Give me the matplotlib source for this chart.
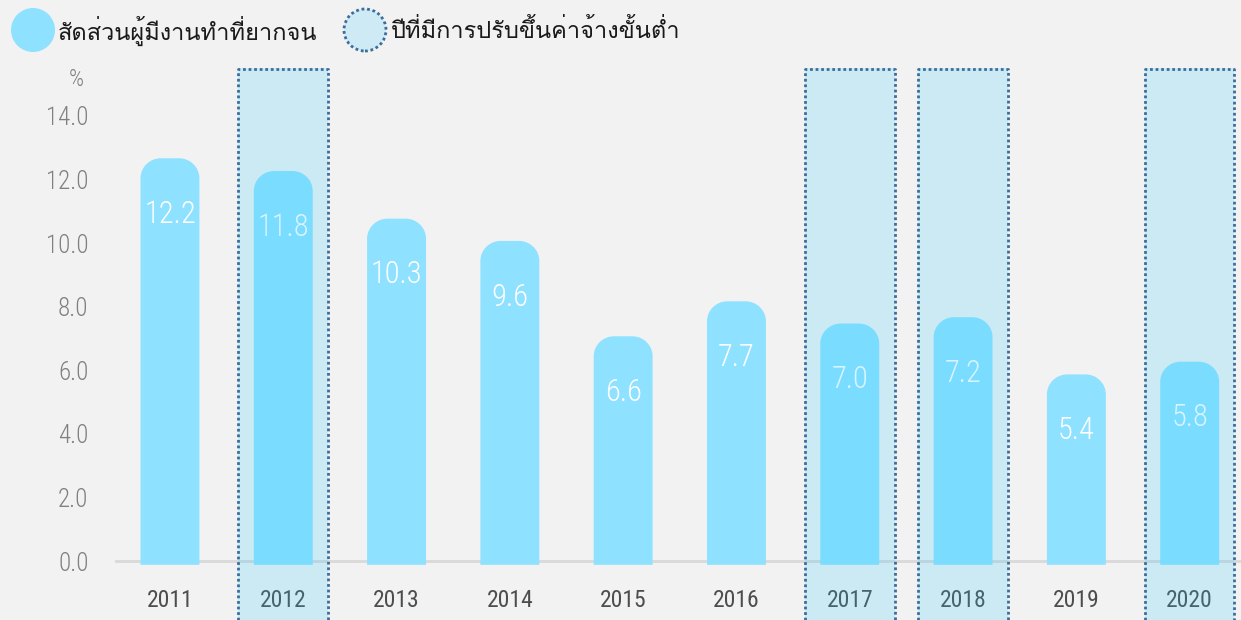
import matplotlib
matplotlib.use('Agg')
import matplotlib.pyplot as plt
from matplotlib import font_manager
from matplotlib.ft2font import FT2Font
from matplotlib.path import Path
from matplotlib.patches import PathPatch, Ellipse
from matplotlib.transforms import blended_transform_factory

# ข้อมูล
years = ['2011', '2012', '2013', '2014', '2015', '2016', '2017', '2018', '2019', '2020']
share = [12.2, 11.8, 10.3, 9.6, 6.6, 7.7, 7.0, 7.2, 5.4, 5.8]
wage_up_years = ['2012', '2017', '2018', '2020']
legend_labels = ['สัดส่วนผู้มีงานทำที่ยากจน', 'ปีที่มีการปรับขึ้นค่าจ้างขั้นต่ำ']
yticks = [0, 2, 4, 6, 8, 10, 12, 14]
y_unit = '%'


# หาฟอนต์ที่มีอักษรไทย
def find_font(codepoint):
    for f in font_manager.fontManager.ttflist:
        try:
            if codepoint in FT2Font(f.fname).get_charmap():
                return f.name
        except Exception:
            pass
    return None


names = {f.name for f in font_manager.fontManager.ttflist}
thai = find_font(0x0E2A)
num_font = 'Roboto Condensed' if 'Roboto Condensed' in names else 'Roboto'
thai_fam = [thai, 'DejaVu Sans'] if thai else ['DejaVu Sans']
num_fam = [num_font, 'DejaVu Sans']
num_w = 'light'

bg = '#f2f2f2'
bar_c = '#8ee1ff'
hl_c = '#24c6ff'
dot_c = '#3b6d9c'

fig = plt.figure(figsize=(12.41, 6.20), dpi=100, facecolor=bg)
ax = fig.add_axes([115 / 1241, 0, 1126 / 1241, 552 / 620])
ax.set_facecolor(bg)
ax.set_xlim(-0.485, 9.453)
ax.set_ylim(-1.856, 15.51)
for s in ax.spines.values():
    s.set_visible(False)
ax.set_xticks([])
ax.set_yticks(yticks)
ax.set_yticklabels(['%.1f' % t for t in yticks], family=num_fam, weight=num_w,
                   fontsize=18, color='#808080')
ax.tick_params(axis='y', length=0, pad=19)

# เส้นฐาน
ax.axhline(0, color='#d9d9d9', lw=2, zorder=1)

bw = 0.52
rx = 0.18   # รัศมีมุมโค้ง (หน่วย x)
ry = 0.63   # รัศมีมุมโค้ง (หน่วย y)
k = 0.5523
for i, v in enumerate(share):
    x0, x1 = i - bw / 2, i + bw / 2
    b = -0.12
    t = v + 0.47
    verts = [(x0, b), (x0, t - ry),
             (x0, t - ry + k * ry), (x0 + rx - k * rx, t), (x0 + rx, t),
             (x1 - rx, t),
             (x1 - rx + k * rx, t), (x1, t - ry + k * ry), (x1, t - ry),
             (x1, b), (x0, b)]
    codes = [Path.MOVETO, Path.LINETO,
             Path.CURVE4, Path.CURVE4, Path.CURVE4,
             Path.LINETO,
             Path.CURVE4, Path.CURVE4, Path.CURVE4,
             Path.LINETO, Path.CLOSEPOLY]
    ax.add_patch(PathPatch(Path(verts, codes), facecolor=bar_c, edgecolor='none', zorder=2))
    ax.text(i, v - 1.3, '%.1f' % v, ha='center', va='center', color='white',
            family=num_fam, weight=num_w, fontsize=22, zorder=3)
    ax.text(i, -1.23, years[i], ha='center', va='center', color='#4d4d4d',
            family=num_fam, fontsize=17, zorder=3)

# ช่วงปีที่มีการปรับขึ้นค่าจ้างขั้นต่ำ
hw = 0.395
top = 15.51
for y in wage_up_years:
    i = years.index(y)
    ax.axvspan(i - hw, i + hw, ymin=0, ymax=1, facecolor=hl_c, alpha=0.18,
               edgecolor='none', zorder=4)
    ax.plot([i - hw, i - hw, i + hw, i + hw], [-1.856, top - 0.04, top - 0.04, -1.856],
            color=dot_c, ls=(0, (1, 1)), lw=2, zorder=5, clip_on=False)

# หน่วย
tr = blended_transform_factory(ax.transAxes, ax.transData)
ax.text(-0.034, 15.15, y_unit, transform=tr, ha='center', va='center',
        family=num_fam, weight=num_w, fontsize=17, color='#808080')

# คำอธิบาย
H = 620
fig.patches.append(Ellipse((33, H - 30), 44, 44, transform=None, facecolor=bar_c,
                           edgecolor='none'))
fig.text(58 / 1241, 1 - 31 / H, legend_labels[0], ha='left', va='center',
         family=thai_fam, fontsize=17, color='#1a1a1a')
fig.patches.append(Ellipse((365, H - 30), 42, 42, transform=None, facecolor='#cdeaf5',
                           edgecolor=dot_c, ls=(0, (1, 1)), lw=2))
fig.text(391 / 1241, 1 - 31 / H, legend_labels[1], ha='left', va='center',
         family=thai_fam, fontsize=17, color='#1a1a1a')

fig.savefig('out.png', dpi=100, facecolor=bg)
